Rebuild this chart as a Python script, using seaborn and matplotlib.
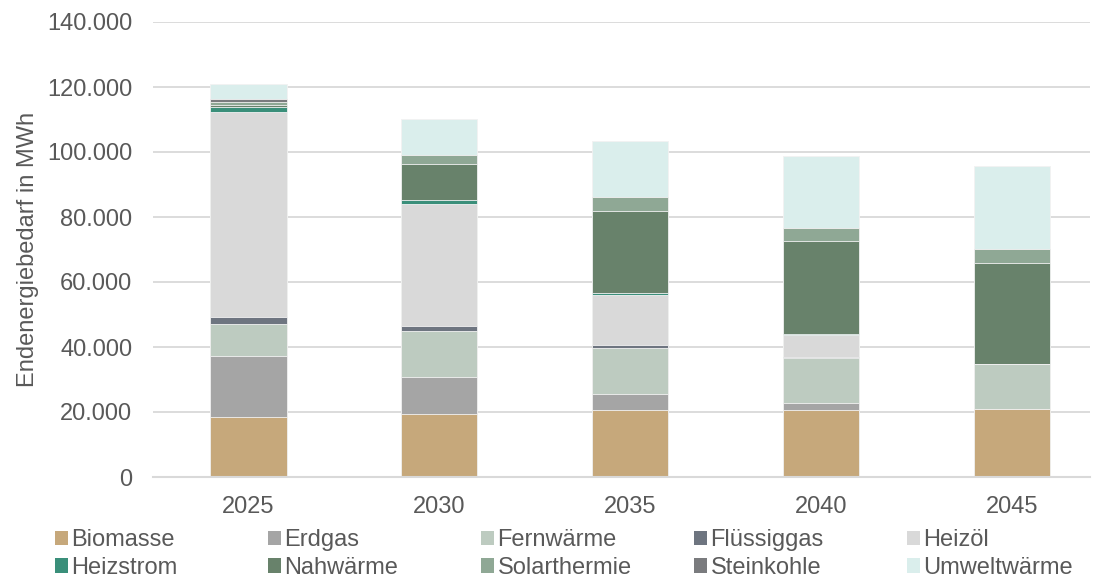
import numpy as np
import pandas as pd
import seaborn as sns
import matplotlib.pyplot as plt
from matplotlib.patches import Patch
from matplotlib.ticker import FuncFormatter

years = ["2025", "2030", "2035", "2040", "2045"]

# Endenergiebedarf in MWh
biomasse = [18500, 19300, 20500, 20600, 20800]
erdgas = [18800, 11500, 5100, 2200, 0]
fernwaerme = [9700, 14000, 14100, 13900, 13900]
fluessiggas = [2200, 1700, 800, 300, 0]
heizoel = [63100, 37400, 15500, 6800, 0]
heizstrom = [1500, 1200, 600, 300, 0]
nahwaerme = [800, 11100, 25300, 28500, 31200]
solarthermie = [700, 2900, 4300, 4000, 4200]
steinkohle = [900, 0, 0, 0, 0]
umweltwaerme = [4600, 11100, 17200, 22200, 25700]

labels = ["Biomasse", "Erdgas", "Fernwärme", "Flüssiggas", "Heizöl",
          "Heizstrom", "Nahwärme", "Solarthermie", "Steinkohle", "Umweltwärme"]
colors = ["#c6a87b", "#a5a5a5", "#bdcbc0", "#6e7580", "#d9d9d9",
          "#3a8f7a", "#68826b", "#8fa895", "#7a7b7e", "#daeeec"]

df = pd.DataFrame({
    "Biomasse": biomasse, "Erdgas": erdgas, "Fernwärme": fernwaerme,
    "Flüssiggas": fluessiggas, "Heizöl": heizoel, "Heizstrom": heizstrom,
    "Nahwärme": nahwaerme, "Solarthermie": solarthermie,
    "Steinkohle": steinkohle, "Umweltwärme": umweltwaerme,
}, index=years)
cum = df[labels].cumsum(axis=1)

sns.set_theme(style="white")
plt.rcParams["font.family"] = ["Liberation Sans", "DejaVu Sans"]
text_col = "#595959"
grid_col = "#d9d9d9"
fs = 17

fig = plt.figure(figsize=(11.01, 5.80), dpi=100)
ax = fig.add_axes([153 / 1101, 103 / 580, 937 / 1101, 455 / 580])

# stacked bars: draw cumulative totals from the top series down
for lab, col in zip(labels[::-1], colors[::-1]):
    sns.barplot(x=years, y=cum[lab].values, color=col, saturation=1,
                width=0.40, ax=ax, zorder=3, linewidth=0.6, edgecolor="#f2f2f2")

ax.set_ylim(0, 140000)
ax.set_xlim(-0.5, 4.41)
ax.set_yticks(np.arange(0, 140001, 20000))
ax.yaxis.set_major_formatter(FuncFormatter(lambda v, p: f"{v:,.0f}".replace(",", ".")))
ax.grid(axis="y", color=grid_col, linewidth=1.3, zorder=0)
ax.set_axisbelow(True)
for s in ["top", "right", "left"]:
    ax.spines[s].set_visible(False)
ax.spines["bottom"].set_color(grid_col)
ax.spines["bottom"].set_linewidth(1.5)
ax.spines["bottom"].set_zorder(4)
ax.tick_params(axis="both", length=0, labelsize=fs, labelcolor=text_col)
ax.tick_params(axis="x", pad=14)
ax.tick_params(axis="y", pad=15)
ax.set_xlabel("")
ax.set_ylabel("Endenergiebedarf in MWh", fontsize=fs, color=text_col)
ax.yaxis.set_label_coords(-0.122, 0.5)

# legend: five columns of two entries, row-wise order
handles = [Patch(facecolor=c, edgecolor="none") for c in colors]
for i in range(5):
    fig.legend([handles[i], handles[i + 5]], [labels[i], labels[i + 5]],
               loc="upper left", bbox_to_anchor=((55 + 213 * i) / 1101, (580 - 529) / 580),
               frameon=False, fontsize=fs, labelcolor=text_col,
               handlelength=0.55, handleheight=0.55, handletextpad=0.15,
               labelspacing=0.25, borderpad=0, borderaxespad=0)

fig.savefig("out.png", dpi=100)
